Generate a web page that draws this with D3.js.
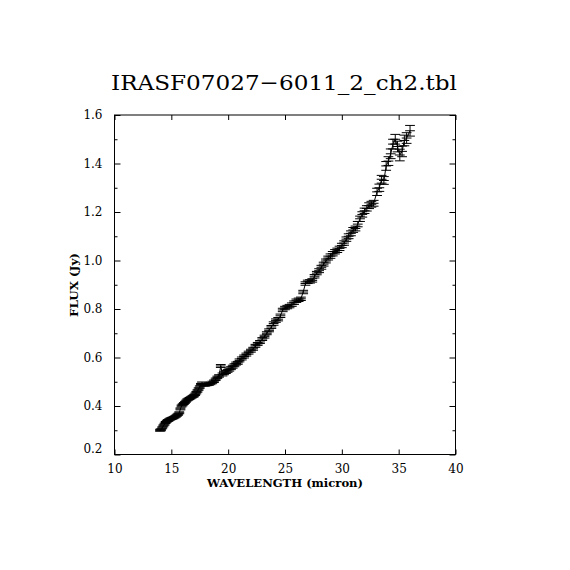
<!DOCTYPE html>
<html><head><meta charset="utf-8">
<script src="https://cdn.jsdelivr.net/npm/d3@7"></script>
<style>body{margin:0;background:#fff}svg{display:block}</style>
</head><body>
<script>
const titleText = "IRASF07027\u22126011_2_ch2.tbl";
const xLabelText = "WAVELENGTH (micron)";
const yLabelText = "FLUX (Jy)";
const xTickValues = [10, 15, 20, 25, 30, 35, 40];
const yTickValues = [0.2, 0.4, 0.6, 0.8, 1.0, 1.2, 1.4, 1.6];
const yMinorTickValues = [0.3, 0.5, 0.7, 0.9, 1.1, 1.3, 1.5];
const waveHalfWidth = 0.43;

const wavelength = [
 14.00,14.10,14.20,14.30,14.40,14.50,14.60,14.70,14.80,14.90,
 15.00,15.10,15.20,15.30,15.40,15.50,15.60,15.70,15.80,15.90,
 16.00,16.10,16.20,16.30,16.40,16.50,16.60,16.70,16.80,16.90,
 17.00,17.10,17.20,17.30,17.40,17.50,17.60,17.70,17.85,18.00,
 18.15,18.30,18.45,18.60,18.75,18.90,19.05,19.20,19.35,19.50,
 19.65,19.80,19.95,20.10,20.25,20.40,20.55,20.70,20.85,21.00,
 21.2,21.4,21.6,21.8,22.0,22.2,22.4,22.6,22.8,23.0,
 23.2,23.4,23.6,23.8,24.0,24.2,24.4,24.6,24.8,25.0,
 25.2,25.4,25.6,25.8,26.0,26.2,26.4,26.6,26.8,27.0,
 27.2,27.4,27.6,27.8,28.0,28.2,28.4,28.6,28.8,29.0,
 29.2,29.4,29.6,29.8,30.0,30.2,30.4,30.6,30.8,31.0,
 31.2,31.4,31.6,31.8,32.0,32.2,32.4,32.6,32.8,33.1,
 33.3,33.5,33.7,33.9,34.1,34.3,34.5,34.7,34.9,35.1,
 35.3,35.5,35.7,36.0
];
const flux = [
 0.300,0.302,0.310,0.318,0.325,0.332,0.337,0.340,0.343,0.346,
 0.348,0.350,0.352,0.355,0.358,0.362,0.366,0.372,0.388,0.400,
 0.405,0.410,0.415,0.420,0.425,0.428,0.431,0.434,0.437,0.440,
 0.443,0.448,0.455,0.462,0.470,0.478,0.488,0.494,0.487,0.487,
 0.489,0.490,0.493,0.497,0.502,0.510,0.518,0.524,0.565,0.530,
 0.535,0.540,0.545,0.550,0.556,0.562,0.568,0.575,0.578,0.588,
 0.596,0.604,0.612,0.620,0.628,0.636,0.648,0.656,0.664,0.676,
 0.686,0.700,0.712,0.726,0.740,0.752,0.758,0.772,0.796,0.804,
 0.808,0.812,0.818,0.826,0.834,0.838,0.842,0.870,0.905,0.912,
 0.914,0.918,0.935,0.948,0.958,0.972,0.985,0.998,1.010,1.018,
 1.028,1.036,1.042,1.050,1.062,1.072,1.088,1.100,1.112,1.126,
 1.132,1.150,1.172,1.190,1.205,1.215,1.226,1.232,1.236,1.283,
 1.300,1.335,1.330,1.390,1.410,1.440,1.480,1.500,1.470,1.435,
 1.450,1.495,1.505,1.535
];
const fluxErr = [
 0.004,0.004,0.004,0.004,0.004,0.004,0.004,0.004,0.004,0.004,
 0.004,0.004,0.004,0.004,0.004,0.004,0.004,0.004,0.004,0.004,
 0.004,0.004,0.004,0.004,0.004,0.004,0.004,0.004,0.004,0.004,
 0.005,0.005,0.005,0.005,0.005,0.005,0.005,0.005,0.005,0.005,
 0.005,0.005,0.005,0.005,0.005,0.005,0.005,0.005,0.006,0.006,
 0.006,0.006,0.006,0.006,0.006,0.006,0.006,0.006,0.006,0.006,
 0.006,0.006,0.006,0.006,0.006,0.006,0.006,0.006,0.006,0.006,
 0.006,0.006,0.006,0.006,0.007,0.007,0.007,0.007,0.007,0.007,
 0.007,0.007,0.007,0.007,0.007,0.007,0.007,0.007,0.007,0.007,
 0.007,0.007,0.007,0.007,0.008,0.008,0.008,0.008,0.008,0.009,
 0.009,0.009,0.009,0.009,0.009,0.009,0.009,0.010,0.010,0.010,
 0.010,0.011,0.011,0.011,0.011,0.011,0.012,0.012,0.012,0.015,
 0.015,0.016,0.016,0.018,0.018,0.020,0.020,0.020,0.022,0.024,
 0.022,0.022,0.022,0.022
];

const W = 570, H = 570;
const svg = d3.select("body").append("svg").attr("width", W).attr("height", H);
const x = d3.scaleLinear().domain([10, 40]).range([114.5, 455.5]);
const y = d3.scaleLinear().domain([0.2, 1.6]).range([454.5, 115]);
const serif = "'DejaVu Serif', 'Liberation Serif', serif";

// frame
svg.append("rect").attr("x", x(10)).attr("y", y(1.6))
  .attr("width", x(40) - x(10)).attr("height", y(0.2) - y(1.6))
  .attr("fill", "none").attr("stroke", "#000").attr("stroke-width", 1);

const styleAxis = g => { g.select(".domain").remove(); g.selectAll("line").attr("stroke", "#000"); };

// bottom axis
svg.append("g").attr("transform", `translate(0,${y(0.2)})`)
  .call(d3.axisBottom(x).tickValues(xTickValues).tickSize(-5).tickPadding(10).tickFormat(d3.format("d")))
  .call(styleAxis)
  .call(g => g.selectAll("text").attr("font-family", serif).attr("font-size", 12).attr("fill", "#000"));
// top axis
svg.append("g").attr("transform", `translate(0,${y(1.6)})`)
  .call(d3.axisTop(x).tickValues(xTickValues).tickSize(-5).tickFormat(""))
  .call(styleAxis);
// left axis major
svg.append("g").attr("transform", `translate(${x(10)},0)`)
  .call(d3.axisLeft(y).tickValues(yTickValues).tickSize(-6).tickPadding(12).tickFormat(d3.format(".1f")))
  .call(styleAxis)
  .call(g => g.selectAll("text").attr("font-family", serif).attr("font-size", 12).attr("fill", "#000"))
  .call(g => g.selectAll(".tick").filter(d => d === 0.2).select("text").attr("dy", "-0.15em"));
svg.append("g").attr("transform", `translate(${x(10)},0)`)
  .call(d3.axisLeft(y).tickValues(yMinorTickValues).tickSize(-3).tickFormat(""))
  .call(styleAxis);
// right axis
svg.append("g").attr("transform", `translate(${x(40)},0)`)
  .call(d3.axisRight(y).tickValues(yTickValues).tickSize(-6).tickFormat(""))
  .call(styleAxis);
svg.append("g").attr("transform", `translate(${x(40)},0)`)
  .call(d3.axisRight(y).tickValues(yMinorTickValues).tickSize(-3).tickFormat(""))
  .call(styleAxis);

// title & labels
svg.append("text").attr("x", 284).attr("y", 90).attr("text-anchor", "middle")
  .attr("font-family", serif).attr("font-size", 21)
  .attr("textLength", 346).attr("lengthAdjust", "spacingAndGlyphs").text(titleText);
svg.append("text").attr("x", 285).attr("y", 487).attr("text-anchor", "middle")
  .attr("font-family", serif).attr("font-size", 11.5).attr("font-weight", "600")
  .attr("textLength", 156).attr("lengthAdjust", "spacingAndGlyphs").text(xLabelText);
svg.append("text").attr("transform", "translate(78,285) rotate(-90)").attr("text-anchor", "middle")
  .attr("font-family", serif).attr("font-size", 11.5).attr("font-weight", "600")
  .attr("textLength", 64).attr("lengthAdjust", "spacingAndGlyphs").text(yLabelText);

// data
const pts = wavelength.map((w, i) => ({w, f: flux[i], e: fluxErr[i]}));
const gd = svg.append("g").attr("stroke", "#000").attr("stroke-width", 1).attr("fill", "none");
gd.append("path").datum(pts).attr("d", d3.line().x(d => x(d.w)).y(d => y(d.f)));
const pg = gd.selectAll("g.pt").data(pts).join("g").attr("class", "pt");
pg.append("line").attr("x1", d => x(d.w - waveHalfWidth)).attr("x2", d => x(d.w + waveHalfWidth))
  .attr("y1", d => y(d.f)).attr("y2", d => y(d.f));
pg.append("line").attr("x1", d => x(d.w)).attr("x2", d => x(d.w))
  .attr("y1", d => y(d.f - d.e)).attr("y2", d => y(d.f + d.e));
pg.append("line").attr("x1", d => x(d.w - waveHalfWidth)).attr("x2", d => x(d.w + waveHalfWidth))
  .attr("y1", d => y(d.f + d.e)).attr("y2", d => y(d.f + d.e));
pg.append("line").attr("x1", d => x(d.w - waveHalfWidth)).attr("x2", d => x(d.w + waveHalfWidth))
  .attr("y1", d => y(d.f - d.e)).attr("y2", d => y(d.f - d.e));
</script>
</body></html>
